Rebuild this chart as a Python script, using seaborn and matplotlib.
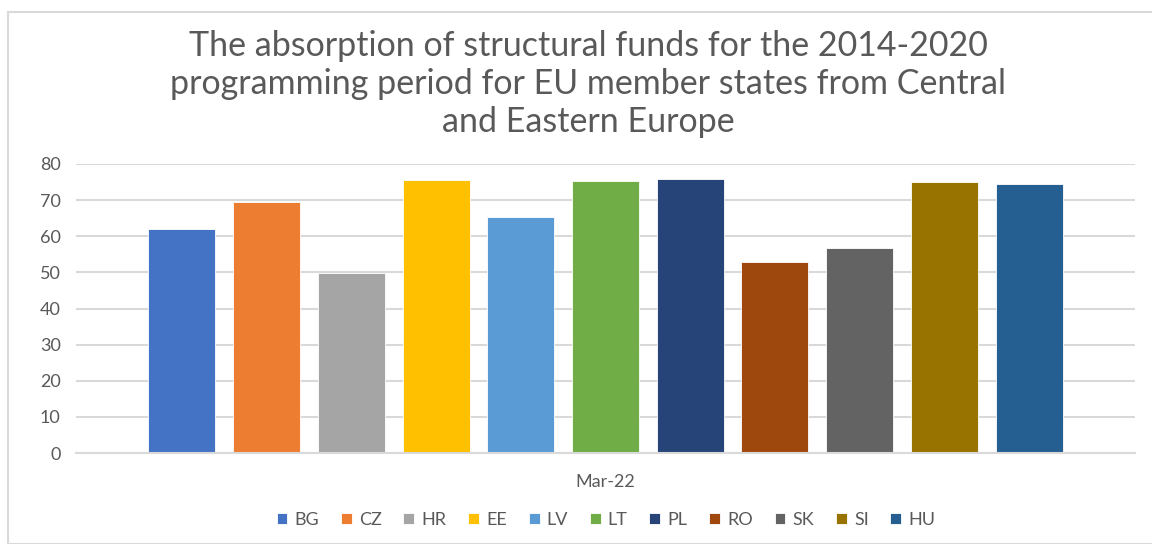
import matplotlib
matplotlib.use("Agg")
import matplotlib.pyplot as plt
from matplotlib.patches import Rectangle
import seaborn as sns
import pandas as pd

# ---- data ----
countries = ["BG", "CZ", "HR", "EE", "LV", "LT", "PL", "RO", "SK", "SI", "HU"]
values = [62.1, 69.4, 49.7, 75.5, 65.3, 75.2, 75.8, 53.0, 56.8, 74.9, 74.4]
period = "Mar-22"
colors = ["#4472C4", "#ED7D31", "#A5A5A5", "#FFC000", "#5B9BD5", "#70AD47",
          "#264478", "#9E480E", "#636363", "#997300", "#255E91"]
yticks = [0, 10, 20, 30, 40, 50, 60, 70, 80]
title = ("The absorption of structural funds for the 2014-2020\n"
         "programming period for EU member states from Central\n"
         "and Eastern Europe")

df = pd.DataFrame({"period": [period] * len(countries),
                   "country": countries, "value": values})

sns.set_theme(style="white")
plt.rcParams["font.family"] = ["Lato", "DejaVu Sans"]

W, H = 1152, 544
fig = plt.figure(figsize=(W / 100, H / 100), dpi=100)
txt = "#595959"
grid = "#D9D9D9"

# chart border
fig.patches.append(Rectangle((8 / W, 0), 1.2, (H - 12) / H, transform=fig.transFigure,
                             fill=False, edgecolor=grid, linewidth=1.5, zorder=0))

ax = fig.add_axes([76 / W, (H - 453) / H, (1135 - 76) / W, (453 - 164) / H])
sns.barplot(data=df, x="period", y="value", hue="country", palette=colors,
            width=0.88, gap=0.21, ax=ax, legend=True, saturation=1)

ax.set_ylim(0, 80)
ax.set_xlim(-0.5, 0.5)
ax.set_yticks(yticks)
ax.yaxis.grid(True, color=grid, linewidth=1.5)
ax.set_axisbelow(True)
for s in ["top", "right", "left"]:
    ax.spines[s].set_visible(False)
ax.spines["bottom"].set_color(grid)
ax.spines["bottom"].set_linewidth(1.5)
ax.tick_params(axis="both", length=0, colors=txt, labelsize=13)
ax.tick_params(axis="y", pad=11)
ax.tick_params(axis="x", pad=15)
ax.set_xlabel("")
ax.set_ylabel("")
for p in ax.patches:
    p.set_edgecolor("white")
    p.set_linewidth(0.6)

handles, labels = ax.get_legend_handles_labels()
ax.get_legend().remove()
fig.legend(handles, labels, loc="center", bbox_to_anchor=(606 / W, 1 - 520 / H),
           ncol=len(countries), frameon=False, fontsize=13, labelcolor=txt,
           handlelength=0.6, handleheight=0.6, handletextpad=0.4, columnspacing=1.2)

fig.text(588 / W, 1 - 84 / H, title, ha="center", va="center", fontsize=24.5,
         color=txt, linespacing=1.22)

fig.savefig("out.png", dpi=100)
